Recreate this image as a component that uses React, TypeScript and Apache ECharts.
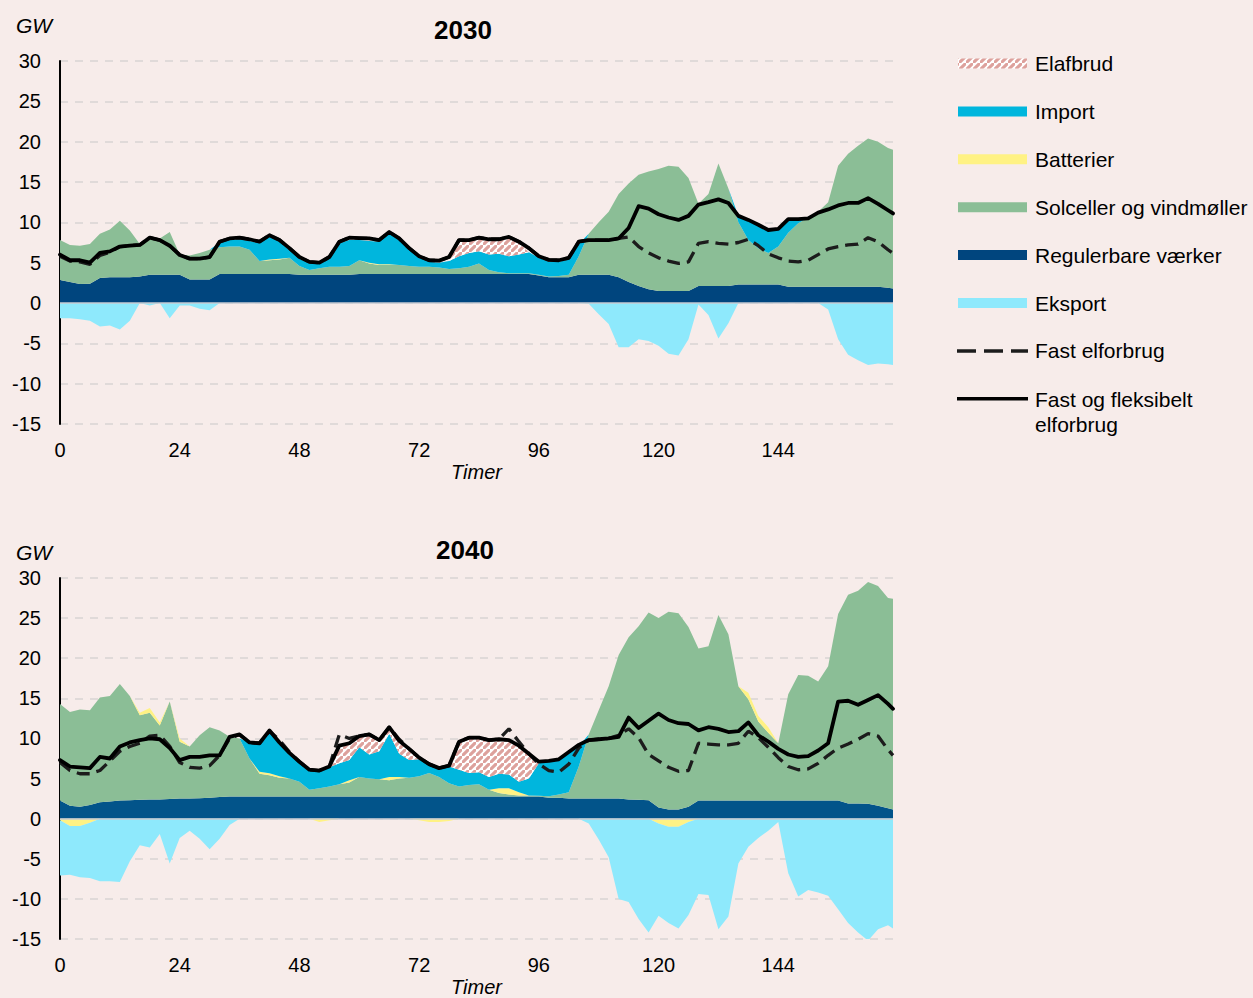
import React, { useEffect, useRef } from 'react';
import * as echarts from 'echarts';

const FONT = '"Liberation Sans", Arial, Helvetica, sans-serif';

// Hours (x values shared by every series)
const hours = [
  0, 2, 4, 6, 8, 10, 12, 14, 16, 18, 20, 22,
  24, 26, 28, 30, 32, 34, 36, 38, 40, 42, 44, 46,
  48, 50, 52, 54, 56, 58, 60, 62, 64, 66, 68, 70,
  72, 74, 76, 78, 80, 82, 84, 86, 88, 90, 92, 94,
  96, 98, 100, 102, 104, 106, 108, 110, 112, 114, 116, 118,
  120, 122, 124, 126, 128, 130, 132, 134, 136, 138, 140, 142,
  144, 146, 148, 150, 152, 154, 156, 158, 160, 162, 164, 166,
  167,
];

const xTicks = [0, 24, 48, 72, 96, 120, 144];

// ---------------- 2030 (GW) ----------------
const reg2030 = [
  2.85, 2.6, 2.35, 2.4, 3.1, 3.2, 3.2, 3.2, 3.3, 3.5, 3.5, 3.5,
  3.5, 2.9, 2.9, 2.9, 3.6, 3.6, 3.6, 3.6, 3.6, 3.6, 3.6, 3.6,
  3.5, 3.5, 3.5, 3.5, 3.5, 3.5, 3.6, 3.6, 3.6, 3.6, 3.6, 3.6,
  3.6, 3.6, 3.6, 3.6, 3.6, 3.6, 3.6, 3.6, 3.6, 3.6, 3.6, 3.6,
  3.4, 3.2, 3.2, 3.2, 3.5, 3.5, 3.5, 3.5, 3.2, 2.6, 2.1, 1.7,
  1.5, 1.5, 1.5, 1.5, 2.1, 2.1, 2.1, 2.1, 2.3, 2.3, 2.3, 2.3,
  2.3, 2.0, 2.0, 2.0, 2.0, 2.0, 2.0, 2.0, 2.0, 2.0, 2.0, 1.9,
  1.8,
];
const green2030 = [
  4.95, 4.6, 4.75, 4.9, 5.5, 5.9, 7.0, 5.8, 4.0, 4.3, 4.5, 5.3,
  2.5, 3.0, 3.3, 3.7, 3.3, 3.4, 3.4, 3.0, 1.6, 1.7, 1.8, 2.0,
  1.1, 0.6, 0.8, 1.0, 1.0, 1.1, 1.7, 1.3, 1.1, 1.1, 1.1, 1.0,
  0.9, 0.9, 0.8, 0.6, 0.7, 0.9, 1.3, 0.5, 0.2, 0.1, 0.1, 0.1,
  0.1, 0.1, 0.15, 0.3, 2.3, 5.1, 6.5, 7.8, 10.3, 12.2, 13.8, 14.6,
  15.1, 15.5, 15.4, 14.0, 10.2, 11.4, 15.2, 12.1, 7.7, 5.5, 4.5, 3.9,
  4.7, 6.7, 7.9, 8.6, 9.3, 10.5, 15.0, 16.5, 17.5, 18.4, 18.0, 17.3,
  17.2,
];
const battPos2030 = [
  0, 0, 0, 0, 0, 0, 0, 0, 0, 0, 0, 0,
  0, 0, 0, 0, 0, 0, 0, 0, 0, 0.1, 0.1, 0,
  0, 0, 0, 0, 0, 0, 0, 0.1, 0.1, 0.1, 0, 0,
  0, 0, 0, 0, 0, 0, 0, 0, 0, 0, 0, 0,
  0, 0, 0, 0, 0, 0, 0, 0, 0, 0, 0, 0,
  0, 0, 0, 0, 0, 0, 0, 0, 0, 0, 0, 0,
  0, 0, 0, 0, 0, 0, 0, 0, 0, 0, 0, 0,
  0,
];
const import2030 = [
  0, 0, 0, 0, 0, 0, 0, 0, 0, 0, 0, 0,
  0, 0, 0, 0, 0.6, 0.8, 0.9, 1.1, 2.2, 2.8, 2.1, 1.0,
  0.9, 0.8, 0.6, 1.0, 2.9, 3.2, 2.5, 2.7, 2.8, 3.8, 3.1, 2.0,
  1.1, 0.6, 0.6, 1.0, 1.5, 1.7, 1.5, 1.9, 2.3, 2.1, 2.3, 2.6,
  2.1, 1.8, 1.75, 1.9, 1.5, 0, 0, 0, 0, 0, 0, 0,
  0, 0, 0, 0, 0, 0, 0, 0, 0.8, 2.5, 2.9, 2.85,
  2.2, 1.7, 0.5, 0.1, 0, 0, 0, 0, 0, 0, 0, 0,
  0,
];
const elaf2030 = [
  0, 0, 0, 0, 0, 0, 0, 0, 0, 0, 0, 0,
  0, 0, 0, 0, 0, 0, 0, 0, 0, 0, 0, 0,
  0, 0, 0, 0, 0, 0, 0, 0, 0, 0, 0, 0,
  0, 0, 0, 0, 1.8, 1.4, 1.5, 1.7, 1.6, 2.2, 1.4, 0,
  0, 0, 0, 0, 0, 0, 0, 0, 0, 0, 0, 0,
  0, 0, 0, 0, 0, 0, 0, 0, 0, 0, 0, 0,
  0, 0, 0, 0, 0, 0, 0, 0, 0, 0, 0, 0,
  0,
];
const export2030 = [
  -1.9, -1.9, -2.0, -2.2, -2.9, -2.8, -3.3, -2.2, 0, -0.3, 0, -1.9,
  -0.3, -0.3, -0.7, -0.9, 0, 0, 0, 0, 0, 0, 0, 0,
  0, 0, 0, 0, 0, 0, 0, 0, 0, 0, 0, 0,
  0, 0, 0, 0, 0, 0, 0, 0, 0, 0, 0, 0,
  0, 0, 0, 0, 0, -0.1, -1.4, -2.6, -5.5, -5.5, -4.5, -4.7,
  -5.3, -6.3, -6.5, -4.5, -0.2, -1.5, -4.4, -2.5, 0, 0, 0, 0,
  0, 0, 0, 0, 0, -0.8, -4.5, -6.4, -7.1, -7.7, -7.5, -7.6,
  -7.7,
];
const fixed2030 = [
  5.8, 5.2, 5.1, 4.8, 5.9, 6.3, 7.0, 7.1, 7.2, 8.1, 7.8, 7.1,
  5.95, 5.5, 5.5, 5.7, 7.6, 8.0, 8.1, 7.9, 7.6, 8.4, 7.8, 6.8,
  5.7, 5.1, 5.0, 5.7, 7.6, 8.1, 8.05, 8.0, 7.8, 8.8, 8.0, 6.8,
  5.8, 5.3, 5.25, 5.7, 7.8, 7.8, 8.1, 7.9, 7.9, 8.2, 7.6, 6.8,
  5.8, 5.35, 5.3, 5.6, 7.6, 7.8, 7.8, 7.8, 8.0, 8.2, 7.0, 6.2,
  5.6, 5.2, 4.9, 5.1, 7.4, 7.6, 7.4, 7.3, 7.5, 7.9, 7.1, 6.1,
  5.6, 5.2, 5.1, 5.3, 6.0, 6.7, 7.0, 7.2, 7.3, 8.1, 7.6, 6.6,
  6.15,
];
const flex2030 = [
  6.0, 5.3, 5.3, 5.0, 6.2, 6.4, 7.0, 7.1, 7.2, 8.1, 7.8, 7.1,
  5.95, 5.5, 5.5, 5.7, 7.6, 8.0, 8.1, 7.9, 7.6, 8.4, 7.8, 6.8,
  5.7, 5.1, 5.0, 5.7, 7.6, 8.1, 8.05, 8.0, 7.8, 8.8, 8.0, 6.8,
  5.8, 5.3, 5.25, 5.7, 7.8, 7.8, 8.1, 7.9, 7.9, 8.2, 7.6, 6.8,
  5.8, 5.35, 5.3, 5.6, 7.6, 7.8, 7.8, 7.8, 8.0, 9.3, 12.0, 11.7,
  11.0, 10.6, 10.3, 10.8, 12.2, 12.5, 12.85, 12.4, 10.8, 10.3, 9.7, 9.05,
  9.2, 10.4, 10.4, 10.5, 11.2, 11.6, 12.1, 12.4, 12.4, 13.0, 12.3, 11.5,
  11.1,
];

// ---------------- 2040 (GW) ----------------
const reg2040 = [
  2.25, 1.6, 1.5, 1.7, 2.05, 2.15, 2.25, 2.3, 2.35, 2.4, 2.4, 2.45,
  2.5, 2.5, 2.55, 2.6, 2.7, 2.75, 2.75, 2.75, 2.75, 2.75, 2.75, 2.75,
  2.75, 2.75, 2.75, 2.75, 2.75, 2.75, 2.75, 2.75, 2.75, 2.75, 2.75, 2.75,
  2.75, 2.75, 2.75, 2.75, 2.75, 2.75, 2.75, 2.75, 2.75, 2.75, 2.75, 2.75,
  2.75, 2.6, 2.6, 2.5, 2.5, 2.5, 2.5, 2.5, 2.5, 2.4, 2.35, 2.3,
  1.4, 1.15, 1.15, 1.5, 2.25, 2.25, 2.25, 2.25, 2.25, 2.25, 2.25, 2.25,
  2.25, 2.25, 2.25, 2.25, 2.25, 2.25, 2.25, 1.9, 1.9, 1.85, 1.6, 1.3,
  1.15,
];
const green2040 = [
  12.05, 11.7, 12.1, 11.8, 13.05, 13.15, 14.55, 13.0, 10.55, 10.8, 9.2, 12.15,
  7.1, 6.5, 7.85, 8.8, 8.3, 7.45, 7.25, 4.75, 2.85, 2.65, 2.35, 2.25,
  1.85, 0.85, 1.05, 1.25, 1.55, 1.75, 2.45, 2.25, 2.15, 2.05, 2.25, 2.35,
  2.55, 2.95, 2.45, 1.65, 1.25, 1.45, 1.55, 0.85, 0.45, 0.25, 0.15, 0.15,
  0.1, 0.2, 0.4, 0.8, 4.0, 8.0, 11.0, 14.0, 17.9, 20.2, 21.65, 23.4,
  23.6, 24.65, 24.45, 22.4, 18.95, 19.25, 23.15, 20.75, 14.25, 12.65, 9.85, 8.45,
  7.15, 13.25, 15.65, 15.55, 14.85, 16.75, 23.25, 26.0, 26.5, 27.65, 27.4, 26.2,
  26.25,
];
const battPos2040 = [
  0, 0, 0, 0, 0, 0, 0, 0, 0.3, 0.6, 0.4, 0,
  0.4, 0, 0, 0, 0, 0, 0, 0, 0.25, 0.25, 0.2, 0,
  0, 0, 0, 0, 0, 0.3, 0, 0, 0, 0.4, 0.2, 0,
  0, 0, 0, 0, 0, 0, 0, 0, 0.6, 0.8, 0.4, 0,
  0, 0, 0, 0, 0, 0, 0, 0, 0, 0, 0, 0,
  0, 0, 0, 0, 0, 0, 0, 0, 0, 0.8, 0.7, 0.7,
  0, 0, 0, 0, 0, 0, 0, 0, 0, 0, 0, 0,
  0,
];
const battNeg2040 = [
  -0.2, -0.9, -0.9, -0.5, 0, 0, 0, 0, 0, 0, 0, 0,
  0, 0, 0, 0, 0, 0, 0, 0, 0, 0, 0, 0,
  0, 0, -0.4, -0.2, 0, 0, 0, 0, 0, 0, 0, 0,
  -0.2, -0.4, -0.4, -0.3, 0, 0, 0, 0, 0, 0, 0, 0,
  0, 0, 0, 0, 0, 0, 0, 0, 0, 0, 0, 0,
  -0.6, -1.0, -1.0, -0.4, 0, 0, 0, 0, 0, 0, 0, 0,
  0, 0, 0, 0, 0, 0, 0, 0, 0, 0, 0, 0,
  0,
];
const import2040 = [
  0, 0, 0, 0, 0, 0, 0, 0, 0, 0, 0, 0,
  0, 0, 0, 0, 0, 0, 0, 2.0, 3.55, 5.25, 4.2, 3.2,
  2.5, 2.4, 2.1, 2.4, 2.6, 2.5, 3.7, 3.0, 3.5, 5.4, 2.9, 2.2,
  2.1, 1.0, 1.0, 2.1, 2.1, 1.5, 1.5, 1.6, 1.8, 1.7, 1.3, 2.1,
  4.05, 4.3, 4.3, 4.8, 2.5, 0, 0, 0, 0, 0, 0, 0,
  0, 0, 0, 0, 0, 0, 0, 0, 0, 0, 0, 0,
  0, 0, 0, 0, 0, 0, 0, 0, 0, 0, 0, 0,
  0,
];
const elaf2040 = [
  0, 0, 0, 0, 0, 0, 0, 0, 0, 0, 0, 0,
  0, 0, 0, 0, 0, 0, 0, 0, 0, 0, 0, 0,
  0, 0, 0, 0, 2.2, 2.1, 1.4, 2.5, 1.4, 0.8, 1.6, 1.4,
  0, 0, 0, 0, 3.5, 4.4, 4.3, 4.6, 4.3, 4.3, 4.5, 3.1,
  0, 0, 0, 0, 0, 0, 0, 0, 0, 0, 0, 0,
  0, 0, 0, 0, 0, 0, 0, 0, 0, 0, 0, 0,
  0, 0, 0, 0, 0, 0, 0, 0, 0, 0, 0, 0,
  0,
];
const export2040 = [
  -6.9, -6.1, -6.4, -6.9, -7.8, -7.8, -7.9, -5.3, -3.3, -3.6, -1.9, -5.6,
  -2.4, -1.5, -2.5, -3.8, -2.5, -0.8, 0, 0, 0, 0, 0, 0,
  0, 0, 0, 0, 0, 0, 0, 0, 0, 0, 0, 0,
  0, 0, 0, 0, 0, 0, 0, 0, 0, 0, 0, 0,
  0, 0, 0, 0, 0, -0.6, -2.6, -4.8, -10.0, -10.4, -12.5, -14.2,
  -11.5, -12.0, -12.7, -11.6, -9.4, -9.5, -13.8, -12.2, -5.6, -3.5, -2.4, -1.5,
  -0.4, -6.8, -9.7, -8.9, -9.2, -9.6, -11.3, -13.0, -14.2, -15.2, -13.8, -13.3,
  -13.7,
];
const fixed2040 = [
  7.0, 6.0, 5.6, 5.6, 6.0, 7.2, 8.4, 9.0, 9.4, 10.3, 10.4, 9.0,
  7.0, 6.4, 6.3, 6.6, 7.9, 10.0, 10.5, 9.5, 9.4, 10.9, 9.8, 8.3,
  7.1, 6.1, 6.0, 6.5, 10.5, 10.0, 10.3, 10.5, 9.8, 11.4, 9.9, 8.7,
  7.6, 6.8, 6.3, 6.6, 9.6, 10.1, 10.1, 9.8, 9.9, 11.2, 9.6, 8.1,
  6.8, 6.0, 5.8, 6.8, 8.8, 9.8, 9.9, 10.0, 10.4, 11.2, 10.1, 8.0,
  7.2, 6.4, 5.9, 6.0, 9.4, 9.3, 9.2, 9.2, 9.4, 10.9, 10.1, 8.9,
  7.6, 6.5, 6.1, 6.2, 6.9, 7.9, 8.8, 9.3, 9.9, 10.6, 10.3, 8.6,
  7.9,
];
const flex2040 = [
  7.3, 6.5, 6.4, 6.3, 7.7, 7.5, 9.0, 9.5, 9.8, 10.0, 9.9, 8.8,
  7.3, 7.7, 7.7, 7.9, 7.9, 10.2, 10.5, 9.5, 9.4, 11.0, 9.5, 8.2,
  7.1, 6.1, 6.0, 6.5, 9.1, 9.4, 10.3, 10.5, 9.8, 11.4, 9.7, 8.7,
  7.6, 6.8, 6.3, 6.6, 9.6, 10.1, 10.1, 9.8, 9.9, 9.8, 9.1, 8.1,
  7.1, 7.2, 7.4, 8.3, 9.2, 9.8, 9.9, 10.0, 10.2, 12.6, 11.3, 12.2,
  13.1, 12.3, 11.9, 11.8, 11.0, 11.4, 11.2, 10.8, 10.9, 12.0, 10.4, 9.6,
  8.7, 8.0, 7.7, 7.8, 8.5, 9.4, 14.6, 14.7, 14.2, 14.8, 15.4, 14.3,
  13.7,
];

const legendNames = [
  'Elafbrud',
  'Import',
  'Batterier',
  'Solceller og vindmøller',
  'Regulerbare værker',
  'Eksport',
  'Fast elforbrug',
  'Fast og fleksibelt\nelforbrug',
];

const C = {
  bg: '#f7ecea',
  reg2030: '#00457e',
  reg2040: '#02548a',
  green: '#8bbe96',
  yellow: '#fff284',
  imp: '#00b6dd',
  exp: '#8ee9fc',
  hatch: '#dda19c',
  grid: '#d9d4d3',
  zero: '#c7cbd3',
};

function makeHatch(): HTMLCanvasElement {
  const s = 7;
  const c = document.createElement('canvas');
  c.width = s;
  c.height = s;
  const ctx = c.getContext('2d') as CanvasRenderingContext2D;
  ctx.fillStyle = '#ffffff';
  ctx.fillRect(0, 0, s, s);
  ctx.strokeStyle = C.hatch;
  ctx.lineWidth = 3.1;
  ctx.beginPath();
  ctx.moveTo(-1, s + 1); ctx.lineTo(s + 1, -1);
  ctx.moveTo(-s - 1, 1); ctx.lineTo(1, -s - 1);
  ctx.moveTo(s - 1, 2 * s + 1); ctx.lineTo(2 * s + 1, s - 1);
  ctx.stroke();
  return c;
}

export default function App() {
  const ref = useRef<HTMLDivElement>(null);

  useEffect(() => {
    if (!ref.current) return;
    const chart = echarts.init(ref.current, undefined, { renderer: 'svg' });
    const hatch: any = { image: makeHatch(), repeat: 'repeat', imageWidth: 7, imageHeight: 7 };
    // value first, hour second: ECharts stacks the first numeric dimension,
    // so the GW value must come first (x is mapped via encode).
    const pairVH = (vals: number[]) => vals.map((v, i) => [v, hours[i]]);

    const panels: any[] = [
      { key: '2030', reg: reg2030, green: green2030, battPos: battPos2030, battNeg: null, imp: import2030, elaf: elaf2030, exp: export2030, fixed: fixed2030, flex: flex2030, regColor: C.reg2030 },
      { key: '2040', reg: reg2040, green: green2040, battPos: battPos2040, battNeg: battNeg2040, imp: import2040, elaf: elaf2040, exp: export2040, fixed: fixed2040, flex: flex2040, regColor: C.reg2040 },
    ];

    const series: any[] = [];
    panels.forEach((p, gi) => {
      const pos = 'pos' + p.key;
      const neg = 'neg' + p.key;
      const area = (name: string, vals: number[], color: any, stack: string, extra: any = {}) => ({
        type: 'line', name, xAxisIndex: gi, yAxisIndex: gi, stack, stackStrategy: 'samesign',
        data: pairVH(vals), encode: { x: 1, y: 0 },
        symbol: 'none', showSymbol: false, silent: true,
        lineStyle: { width: 0, opacity: 0 },
        areaStyle: { color, opacity: 1 },
        itemStyle: { color },
        emphasis: { disabled: true },
        z: 2,
        ...extra,
      });
      series.push(area('Regulerbare værker', p.reg, p.regColor, pos));
      series.push(area('Solceller og vindmøller', p.green, C.green, pos));
      series.push(area('Batterier', p.battPos, C.yellow, pos));
      series.push(area('Import', p.imp, C.imp, pos));
      series.push(area('Elafbrud', p.elaf, hatch, pos));
      if (p.battNeg) series.push(area('Batterier', p.battNeg, C.yellow, neg));
      series.push(area('Eksport', p.exp, C.exp, neg, {
        markLine: {
          silent: true, symbol: 'none', label: { show: false }, z: 5,
          lineStyle: { color: C.zero, width: 1.6, type: 'solid' },
          emphasis: { disabled: true },
          data: [{ yAxis: 0 }],
        },
      }));
      series.push({
        type: 'line', name: 'Fast elforbrug', xAxisIndex: gi, yAxisIndex: gi,
        data: pairVH(p.fixed), encode: { x: 1, y: 0 },
        symbol: 'none', showSymbol: false, silent: true, z: 3,
        lineStyle: { color: '#1c1c1c', width: 3.3, type: [13, 7] },
        emphasis: { disabled: true },
      });
      series.push({
        type: 'line', name: 'Fast og fleksibelt elforbrug', xAxisIndex: gi, yAxisIndex: gi,
        data: pairVH(p.flex), encode: { x: 1, y: 0 },
        symbol: 'none', showSymbol: false, silent: true, z: 4,
        lineStyle: { color: '#000000', width: 3.8, join: 'round', cap: 'round' },
        emphasis: { disabled: true },
      });
    });

    const axisText = { color: '#000', fontSize: 20, fontFamily: FONT };

    const legendRows = legendNames.map((_, i) => 63.5 + 47.9 * i);
    const legendGraphics: any[] = [];
    const fills: any[] = [hatch, C.imp, C.yellow, C.green, C.reg2030, C.exp];
    legendNames.forEach((name, i) => {
      const cy = legendRows[i];
      if (i === 6) {
        legendGraphics.push({ type: 'line', silent: true, shape: { x1: 957, y1: cy, x2: 1028, y2: cy }, style: { stroke: '#1c1c1c', lineWidth: 3.5, lineDash: [19, 8] } });
      } else if (i === 7) {
        legendGraphics.push({ type: 'line', silent: true, shape: { x1: 957, y1: cy, x2: 1028, y2: cy }, style: { stroke: '#000', lineWidth: 3.5 } });
      } else {
        legendGraphics.push({ type: 'rect', silent: true, shape: { x: 958, y: cy - 5, width: 69, height: 10 }, style: { fill: fills[i] } });
      }
      legendGraphics.push({
        type: 'text', silent: true, x: 1035, y: i === 7 ? cy - 12 : cy,
        style: {
          text: name, fill: '#000', fontSize: 21, fontFamily: FONT, lineHeight: 25,
          align: 'left', verticalAlign: i === 7 ? 'top' : 'middle',
        },
      });
    });

    const option: any = {
      animation: false,
      backgroundColor: C.bg,
      grid: [
        { left: 60, top: 61, width: 833, height: 363 },
        { left: 60, top: 578, width: 833, height: 364 },
      ],
      xAxis: [0, 1].map((i) => ({
        type: 'value', gridIndex: i, min: 0, max: 167, interval: 24,
        axisLine: { show: false, onZero: false },
        axisTick: { show: false },
        splitLine: { show: false },
        axisLabel: {
          ...axisText, margin: 16,
          formatter: (v: number) => (xTicks.indexOf(v) >= 0 ? String(v) : ''),
        },
        name: 'Timer', nameLocation: 'middle', nameGap: 38,
        nameTextStyle: { ...axisText, fontStyle: 'italic' },
      })),
      yAxis: [0, 1].map((i) => ({
        type: 'value', gridIndex: i, min: -15, max: 30, interval: 5,
        axisLine: { show: true, onZero: false, lineStyle: { color: '#000', width: 2 } },
        axisTick: { show: false },
        axisLabel: { ...axisText, margin: 19 },
        splitLine: { show: true, lineStyle: { color: C.grid, width: 1.5, type: [8, 7] } },
      })),
      series,
      graphic: [
        { type: 'text', silent: true, x: 16, y: 25, style: { text: 'GW', fill: '#000', fontSize: 21, fontStyle: 'italic', fontFamily: FONT, align: 'left', verticalAlign: 'middle' } },
        { type: 'text', silent: true, x: 16, y: 552, style: { text: 'GW', fill: '#000', fontSize: 21, fontStyle: 'italic', fontFamily: FONT, align: 'left', verticalAlign: 'middle' } },
        { type: 'text', silent: true, x: 463, y: 30, style: { text: '2030', fill: '#000', fontSize: 26, fontWeight: 'bold', fontFamily: FONT, align: 'center', verticalAlign: 'middle' } },
        { type: 'text', silent: true, x: 465, y: 550, style: { text: '2040', fill: '#000', fontSize: 26, fontWeight: 'bold', fontFamily: FONT, align: 'center', verticalAlign: 'middle' } },
        ...legendGraphics,
      ],
    };

    chart.setOption(option);
    return () => {
      chart.dispose();
    };
  }, []);

  return (
    <div
      ref={ref}
      style={{ position: 'fixed', left: 0, top: 0, width: 1253, height: 998, background: C.bg }}
    />
  );
}
